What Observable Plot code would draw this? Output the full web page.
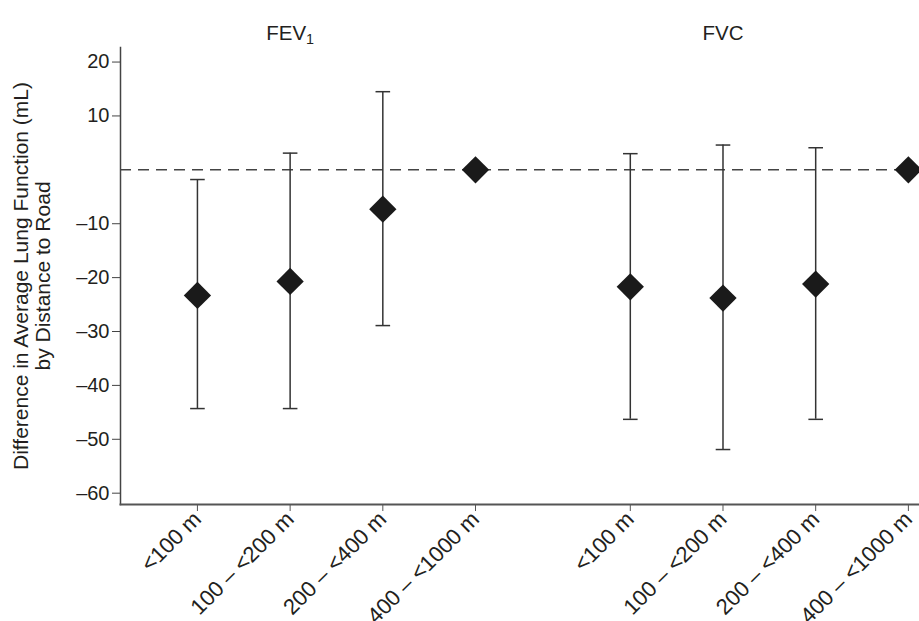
<!DOCTYPE html>
<html><head><meta charset="utf-8">
<script src="https://cdn.jsdelivr.net/npm/d3@7"></script>
<script src="https://cdn.jsdelivr.net/npm/@observablehq/plot@0.6"></script>
<style>
body{margin:0;background:#fff} svg{display:block}
#chart g[aria-label="x-axis tick label"]{font-size:22px}
#chart g[aria-label="y-axis tick label"]{font-size:20px}
</style>
</head><body><div id="chart"></div>
<script>
// ---- data ----
const outcomes = ["FEV1", "FVC"];
const distances = ["<100 m", "100 – <200 m", "200 – <400 m", "400 – <1000 m"];
const fev1Est  = [-23.3, -20.7, -7.3, 0];
const fev1Low  = [-44.3, -44.3, -28.9, null];
const fev1High = [-1.8, 3.1, 14.5, null];
const fvcEst   = [-21.7, -23.8, -21.2, 0];
const fvcLow   = [-46.3, -51.9, -46.3, null];
const fvcHigh  = [3.0, 4.6, 4.1, null];
const yTicks = [20, 10, -10, -20, -30, -40, -50, -60];
const yLabel = "Difference in Average Lung Function (mL)\nby Distance to Road";

// ---- layout ----
const GROUP_SPAN = 4.67;
const series = {FEV1: [fev1Est, fev1Low, fev1High], FVC: [fvcEst, fvcLow, fvcHigh]};
const rows = outcomes.flatMap((o, g) => distances.map((d, i) => ({
  outcome: o, distance: d, pos: g * GROUP_SPAN + i,
  est: series[o][0][i], low: series[o][1][i], high: series[o][2][i]
})));
const withCI = rows.filter(d => d.low != null);
const titles = outcomes.map((o, g) => ({outcome: o, pos: g * GROUP_SPAN + 1}));
const labelOf = new Map(rows.map(d => [d.pos, d.distance]));
const cap = {draw(ctx, size) { const w = Math.sqrt(size / Math.PI); ctx.moveTo(-w, 0); ctx.lineTo(w, 0); }};
const fmt = d => (d < 0 ? "\u2013" : "") + Math.abs(d);

const plot = Plot.plot({
  width: 919, height: 621,
  marginLeft: 120, marginRight: 0, marginTop: 47, marginBottom: 117,
  style: {fontFamily: "'Liberation Sans', Arial, sans-serif", fontSize: "20px", color: "#231f20", background: "#fff"},
  x: {type: "linear", domain: [-0.83, 7.79]},
  y: {domain: [-62.1, 22.7]},
  marks: [
    Plot.frame({anchor: "left", stroke: "#444", strokeWidth: 1.5}),
    Plot.frame({anchor: "bottom", stroke: "#555", strokeWidth: 2}),
    Plot.ruleY([0], {stroke: "#444", strokeWidth: 1.5, strokeDasharray: "11,7"}),
    Plot.ruleX(withCI, {x: "pos", y1: "low", y2: "high", stroke: "#333", strokeWidth: 1.5}),
    Plot.dot(withCI, {x: "pos", y: "low", symbol: cap, r: 7.3, fill: "none", stroke: "#333", strokeWidth: 1.5}),
    Plot.dot(withCI, {x: "pos", y: "high", symbol: cap, r: 7.3, fill: "none", stroke: "#333", strokeWidth: 1.5}),
    Plot.dot(rows, {x: "pos", y: "est", symbol: "diamond2", r: 12.3, fill: "#1a1a1a", stroke: "none"}),
    Plot.axisX(rows.map(d => d.pos), {tickFormat: p => labelOf.get(p), tickRotate: -45, tickSize: 7, tickPadding: 4, stroke: "#555", label: null}),
    Plot.axisY(yTicks, {tickFormat: fmt, tickSize: 8, tickPadding: 3, stroke: "#444", label: null}),
    Plot.text(titles, {x: "pos", text: "outcome", frameAnchor: "top", dy: -22, fontSize: 20.5}),
    Plot.text([yLabel], {text: d => d, frameAnchor: "left", textAnchor: "middle", dx: -89, rotate: -90, lineHeight: 1.05, fontSize: 21})
  ]
});

const svg = d3.select(plot);
svg.selectAll('g[aria-label="y-axis tick label"] text').style("font-size", "20px").style("font-variant", "normal");
svg.selectAll('g[aria-label="x-axis tick label"] text').style("font-size", "22px");
// subscript for FEV1
svg.selectAll("text").each(function() {
  if (this.textContent === "FEV1") {
    const t = d3.select(this);
    t.text("FEV");
    t.append("tspan").attr("dy", "0.3em").attr("font-size", "0.7em").text("1");
  }
});
document.getElementById("chart").append(plot);
</script></body></html>
